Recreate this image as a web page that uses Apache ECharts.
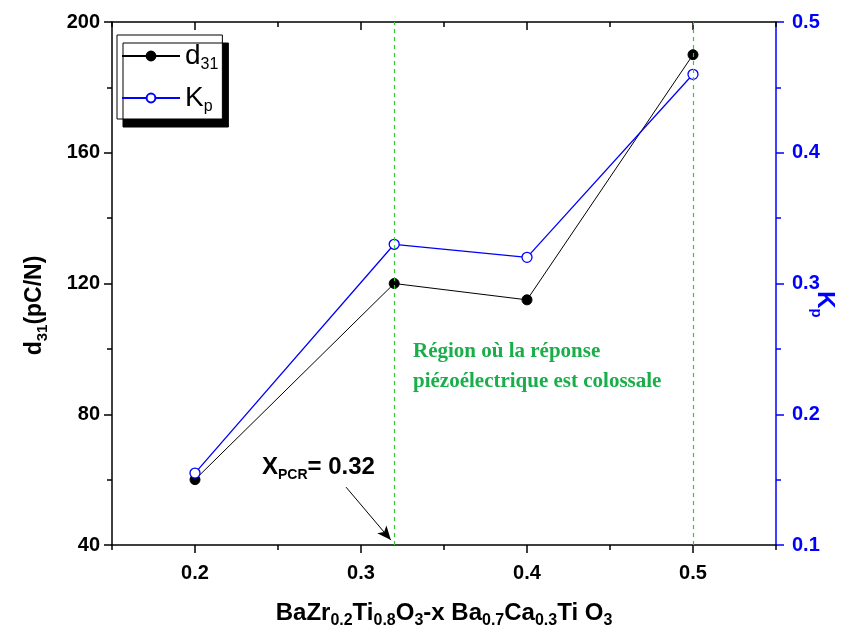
<!DOCTYPE html>
<html>
<head>
<meta charset="utf-8">
<script src="https://cdn.jsdelivr.net/npm/echarts@6/dist/echarts.min.js"></script>
<style>html,body{margin:0;padding:0;background:#fff}#c{width:859px;height:631px}</style>
</head>
<body>
<div id="c"></div>
<script>
// Data
const xValues = [0.2, 0.32, 0.4, 0.5];
const d31 = [60, 120, 115, 190];
const kp = [0.155, 0.33, 0.32, 0.46];
const xMajorTicks = [0.2, 0.3, 0.4, 0.5];
const xMinorTicks = [0.15, 0.25, 0.35, 0.45, 0.55];
const regionLines = [0.32, 0.5];

const FONT = '"Liberation Sans", Arial, sans-serif';
const chart = echarts.init(document.getElementById('c'), null, {renderer: 'canvas'});

const d31Data = xValues.map((x, i) => [x, d31[i]]);
const kpData = xValues.map((x, i) => [x, kp[i]]);

const xCommon = {type: 'value', min: 0.15, max: 0.55, splitLine: {show: false}};

const option = {
  animation: false,
  backgroundColor: '#fff',
  grid: {left: 112, right: 83, top: 22, bottom: 86, containLabel: false, outerBoundsMode: 'none'},
  legend: {
    orient: 'vertical', left: 117, top: 35,
    padding: [7, 4, 4, 4], itemGap: 11,
    itemWidth: 58, itemHeight: 11,
    backgroundColor: '#fff', borderColor: '#000', borderWidth: 1,
    shadowColor: '#000', shadowBlur: 0, shadowOffsetX: 6, shadowOffsetY: 8,
    data: ['d31', 'Kp'],
    formatter: function (n) { return n === 'd31' ? '{b|d}{s|31}' : '{b|K}{s|p}'; },
    textStyle: {
      fontFamily: FONT, color: '#000',
      rich: {
        b: {fontSize: 28, fontFamily: FONT, color: '#000'},
        s: {fontSize: 16, fontFamily: FONT, color: '#000', padding: [18, 0, 0, 0]}
      }
    }
  },
  xAxis: [
    Object.assign({}, xCommon, {
      position: 'bottom',
      name: '{n|BaZr}{s|0.2}{n|Ti}{s|0.8}{n|O}{s|3}{n|-x Ba}{s|0.7}{n|Ca}{s|0.3}{n|Ti O}{s|3}',
      nameLocation: 'middle', nameGap: 52,
      nameTextStyle: {
        rich: {
          n: {fontSize: 24, fontWeight: 'bold', fontFamily: FONT, color: '#000'},
          s: {fontSize: 16, fontWeight: 'bold', fontFamily: FONT, color: '#000', padding: [16, 0, 0, 0]}
        }
      },
      axisLine: {lineStyle: {color: '#000', width: 1.5}},
      axisTick: {show: true, inside: false, length: 8, customValues: xMajorTicks, lineStyle: {color: '#000', width: 1.5}},
      axisLabel: {show: true, customValues: xMajorTicks, margin: 18, fontSize: 20, fontWeight: 'bold', fontFamily: FONT, color: '#000',
        formatter: v => v.toFixed(1)}
    }),
    Object.assign({}, xCommon, {
      position: 'bottom',
      axisLine: {show: false},
      axisTick: {show: true, inside: false, length: 5, customValues: xMinorTicks, lineStyle: {color: '#000', width: 1.5}},
      axisLabel: {show: false}
    }),
    Object.assign({}, xCommon, {
      position: 'top',
      axisLine: {lineStyle: {color: '#000', width: 1.5}},
      axisTick: {show: true, inside: true, length: 8, customValues: xMajorTicks, lineStyle: {color: '#000', width: 1.5}},
      axisLabel: {show: false}
    }),
    Object.assign({}, xCommon, {
      position: 'top',
      axisLine: {show: false},
      axisTick: {show: true, inside: true, length: 5, customValues: xMinorTicks, lineStyle: {color: '#000', width: 1.5}},
      axisLabel: {show: false}
    })
  ],
  yAxis: [
    {
      type: 'value', position: 'left', min: 40, max: 200, interval: 40,
      name: '{n|d}{s|31}{n|(pC/N)}', nameLocation: 'middle', nameGap: 62,
      nameTextStyle: {
        padding: [0, 44, 0, 0],
        rich: {
          n: {fontSize: 23, fontWeight: 'bold', fontFamily: FONT, color: '#000'},
          s: {fontSize: 15, fontWeight: 'bold', fontFamily: FONT, color: '#000', padding: [16, 0, 0, 0]}
        }
      },
      splitLine: {show: false},
      axisLine: {show: true, lineStyle: {color: '#000', width: 1.5}},
      axisTick: {show: true, inside: false, length: 8, lineStyle: {color: '#000', width: 1.5}},
      minorTick: {show: true, splitNumber: 2, length: 5, lineStyle: {color: '#000', width: 1.5}},
      axisLabel: {margin: 12, fontSize: 20, fontWeight: 'bold', fontFamily: FONT, color: '#000'}
    },
    {
      type: 'value', position: 'right', min: 0.1, max: 0.5, interval: 0.1,
      name: '{n|K}{s|p}', nameLocation: 'middle', nameGap: 33, nameRotate: -90,
      nameMoveOverlap: false,
      nameTextStyle: {
        padding: [0, 0, 0, 42],
        rich: {
          n: {fontSize: 24, fontWeight: 'bold', fontFamily: FONT, color: '#0000ff'},
          s: {fontSize: 15, fontWeight: 'bold', fontFamily: FONT, color: '#0000ff', padding: [16, 0, 0, 0]}
        }
      },
      splitLine: {show: false},
      axisLine: {show: true, lineStyle: {color: '#0000ff', width: 1.5}},
      axisTick: {show: true, inside: false, length: 8, lineStyle: {color: '#0000ff', width: 1.5}},
      minorTick: {show: true, splitNumber: 2, length: 5, lineStyle: {color: '#0000ff', width: 1.5}},
      axisLabel: {margin: 16, fontSize: 20, fontWeight: 'bold', fontFamily: FONT, color: '#0000ff',
        formatter: v => v.toFixed(1)}
    }
  ],
  series: [
    {
      name: 'd31', type: 'line', xAxisIndex: 0, yAxisIndex: 0,
      data: d31Data,
      symbol: 'circle', symbolSize: 10,
      lineStyle: {color: '#000', width: 1},
      itemStyle: {color: '#000', borderColor: '#000', borderWidth: 1},
      markLine: {
        silent: true, symbol: 'none', animation: false,
        label: {show: false},
        lineStyle: {color: '#33cc33', type: [4, 4], width: 1.2},
        data: regionLines.map(v => ({xAxis: v}))
      },
      z: 3
    },
    {
      name: 'Kp', type: 'line', xAxisIndex: 0, yAxisIndex: 1,
      data: kpData,
      symbol: 'circle', symbolSize: 10,
      lineStyle: {color: '#0000ff', width: 1.3},
      itemStyle: {color: '#fff', borderColor: '#0000ff', borderWidth: 1.3},
      z: 4
    },
    {
      name: 'arrow', type: 'line', xAxisIndex: 0, yAxisIndex: 0, data: [],
      markLine: {
        silent: true, symbol: ['none', 'arrow'], symbolSize: [9, 14],
        label: {show: false},
        lineStyle: {color: '#000', type: 'solid', width: 1},
        data: [[{coord: [0.291, 57.7]}, {coord: [0.318, 41.5]}]]
      }
    }
  ],
  graphic: [
    {
      type: 'text', left: 262, top: 455,
      style: {
        text: '{b|X}{s|PCR}{b|= 0.32}',
        rich: {
          b: {fontSize: 24, fontWeight: 'bold', fontFamily: FONT, fill: '#000'},
          s: {fontSize: 14, fontWeight: 'bold', fontFamily: FONT, fill: '#000', padding: [16, 0, 0, 0]}
        }
      }
    },
    {
      type: 'text', left: 413, top: 337,
      style: {
        text: 'Région où la réponse\npiézoélectrique est colossale',
        font: 'bold 21px "Liberation Serif", "Times New Roman", serif',
        fill: '#1aae4a', lineHeight: 30
      }
    }
  ]
};
chart.setOption(option);
</script>
</body>
</html>
